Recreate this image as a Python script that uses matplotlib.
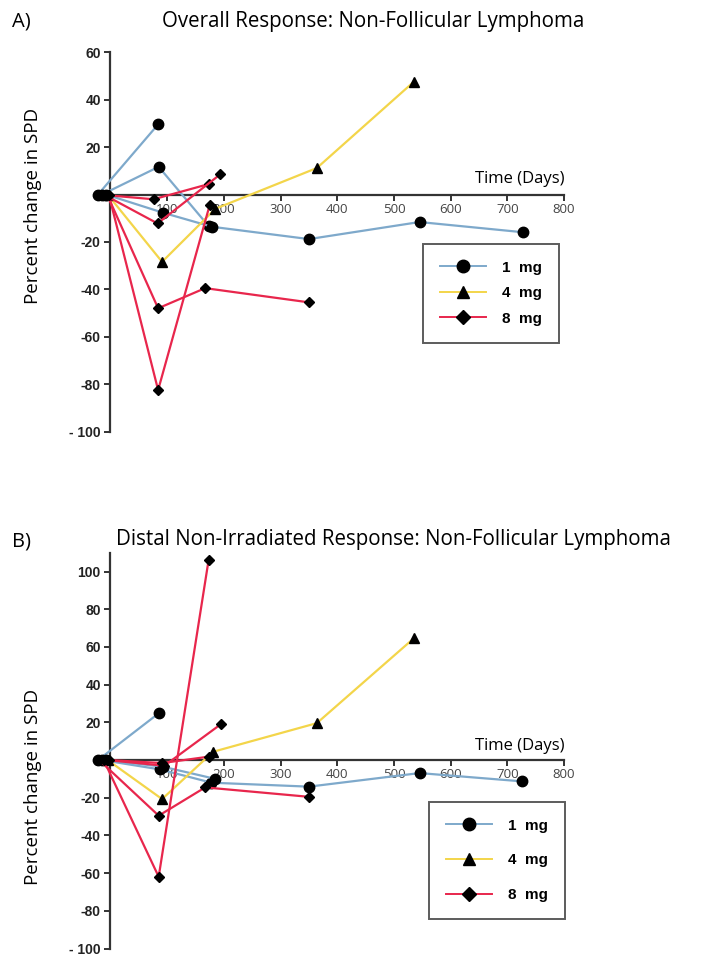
import matplotlib
matplotlib.use("Agg")
import matplotlib.pyplot as plt
from matplotlib.lines import Line2D

# ---- data (days, percent change in SPD) ----
doses = ["1 mg", "4 mg", "8 mg"]

a_1mg_days = [[-22, 84], [-15, 85, 173], [-8, 93, 179, 350, 545, 727]]
a_1mg_pct = [[0, 29.6], [0, 11.7, -13.3], [0, -7.7, -13.6, -18.8, -11.6, -15.9]]
a_4mg_days = [[-5, 91, 185, 364, 535]]
a_4mg_pct = [[0, -28.4, -6, 11.2, 47.6]]
a_8mg_days = [[-20, 76, 173], [-12, 83, 194], [-6, 84, 167, 350], [-3, 84, 175]]
a_8mg_pct = [[0, -2, 4.4], [0, -12.2, 8.6], [0, -48, -39.5, -45.5], [0, -82.5, -4.4]]

b_1mg_days = [[-22, 85], [-15, 88, 178, 350, 545, 726], [-8, 92, 185]]
b_1mg_pct = [[0, 24.8], [0, -5, -12, -14.1, -6.9, -11.3], [0, -3.5, -10]]
b_4mg_days = [[-5, 91, 181, 364, 535]]
b_4mg_pct = [[0, -20.7, 4.4, 19.6, 64.6]]
b_8mg_days = [[-20, 85, 167, 350], [-12, 85, 173], [-6, 95, 195], [-3, 91, 173]]
b_8mg_pct = [[0, -29.5, -14.5, -19.5], [0, -61.9, 106], [0, -3, 19.1], [0, -1.6, 1.8]]

x_ticks = [100, 200, 300, 400, 500, 600, 700, 800]
a_y_ticks = [-100, -80, -60, -40, -20, 0, 20, 40, 60]
b_y_ticks = [-100, -80, -60, -40, -20, 0, 20, 40, 60, 80, 100]

colors = {"1 mg": "#7ea9cb", "4 mg": "#f3d54a", "8 mg": "#e8264c"}
markers = {"1 mg": ("o", 7.5), "4 mg": ("^", 7.5), "8 mg": ("D", 5.5)}

title_font = ["Open Sans", "DejaVu Sans"]
tick_font = ["Liberation Sans Narrow", "Liberation Sans", "DejaVu Sans"]

fig = plt.figure(figsize=(7.03, 9.6), dpi=100)


def draw_panel(ax, series, ylim, yticks, ybounds):
    for dose, days_list, pct_list in series:
        m, ms = markers[dose]
        for d, p in zip(days_list, pct_list):
            ax.plot(d, p, color=colors[dose], lw=1.6, marker=m, ms=ms,
                    mfc="black", mec="black", zorder=3)
    ax.set_xlim(-40, 810)
    ax.set_ylim(*ylim)
    for s in ["top", "right"]:
        ax.spines[s].set_visible(False)
    ax.spines["left"].set_position(("data", 0))
    ax.spines["bottom"].set_position(("data", 0))
    ax.spines["left"].set_bounds(*ybounds)
    ax.spines["bottom"].set_bounds(0, 800)
    for s in ["left", "bottom"]:
        ax.spines[s].set_linewidth(1.6)
        ax.spines[s].set_color("#333333")
        ax.spines[s].set_zorder(2)
    ax.set_xticks(x_ticks)
    ax.set_xticklabels([str(t) for t in x_ticks], family=title_font,
                       fontsize=9.5, color="#444444")
    ax.set_yticks(yticks)
    ax.set_yticklabels([("- " + str(-t)) if t == -100 else str(t) for t in yticks],
                       family=tick_font, fontsize=10, fontweight="bold", color="#222222")
    ax.tick_params(axis="both", direction="out", length=4, width=1.4, color="#333333")
    ax.tick_params(axis="x", pad=2)
    ax.tick_params(axis="y", pad=3)
    ax.text(800, 3, "Time (Days)", ha="right", va="bottom", fontsize=12,
            family=title_font, transform=ax.transData)


def add_legend(ax, loc_xy, spacing):
    handles = [Line2D([], [], color=colors[d], lw=1.4, marker=markers[d][0],
                      ms=markers[d][1] + 1.5, mfc="black", mec="black") for d in doses]
    leg = ax.legend(handles, doses, loc="upper left", bbox_to_anchor=loc_xy,
                    bbox_transform=fig.transFigure, frameon=True, fancybox=False,
                    edgecolor="#333333", handlelength=3.0, handletextpad=1.1,
                    labelspacing=spacing, borderpad=1.1, borderaxespad=0,
                    prop={"family": ["Liberation Sans", "DejaVu Sans"],
                          "weight": "bold", "size": 11})
    leg.get_frame().set_linewidth(1.4)
    for t in leg.get_texts():
        t.set_text(t.get_text().replace(" ", "  "))


# panel A
axA = fig.add_axes([0.1249, 0.5431, 0.6856, 0.4073])
draw_panel(axA, [("1 mg", a_1mg_days, a_1mg_pct), ("4 mg", a_4mg_days, a_4mg_pct),
                 ("8 mg", a_8mg_days, a_8mg_pct)], (-103, 62), a_y_ticks, (-100, 60))
add_legend(axA, (423 / 703, 1 - 244 / 960), 0.75)
axA.set_ylabel("Percent change in SPD", family=title_font, fontsize=13.5)
axA.yaxis.set_label_coords(42 / 703, 1 - 206 / 960, transform=fig.transFigure)

# panel B
axB = fig.add_axes([0.1249, 0.006, 0.6856, 0.4222])
draw_panel(axB, [("1 mg", b_1mg_days, b_1mg_pct), ("4 mg", b_4mg_days, b_4mg_pct),
                 ("8 mg", b_8mg_days, b_8mg_pct)], (-103, 112), b_y_ticks, (-100, 110))
add_legend(axB, (429 / 703, 1 - 802 / 960), 1.35)
axB.set_ylabel("Percent change in SPD", family=title_font, fontsize=13.5)
axB.yaxis.set_label_coords(42 / 703, 1 - 787 / 960, transform=fig.transFigure)

fig.text(12 / 703, 1 - 22 / 960, "A)", fontsize=14.5, family=title_font, va="center")
fig.text(373 / 703, 1 - 22 / 960, "Overall Response: Non-Follicular Lymphoma",
         fontsize=14.8, family=title_font, ha="center", va="center")
fig.text(12 / 703, 1 - 542 / 960, "B)", fontsize=14.5, family=title_font, va="center")
fig.text(393 / 703, 1 - 540 / 960, "Distal Non-Irradiated Response: Non-Follicular Lymphoma",
         fontsize=14.8, family=title_font, ha="center", va="center")

fig.savefig("out.png", dpi=100)
